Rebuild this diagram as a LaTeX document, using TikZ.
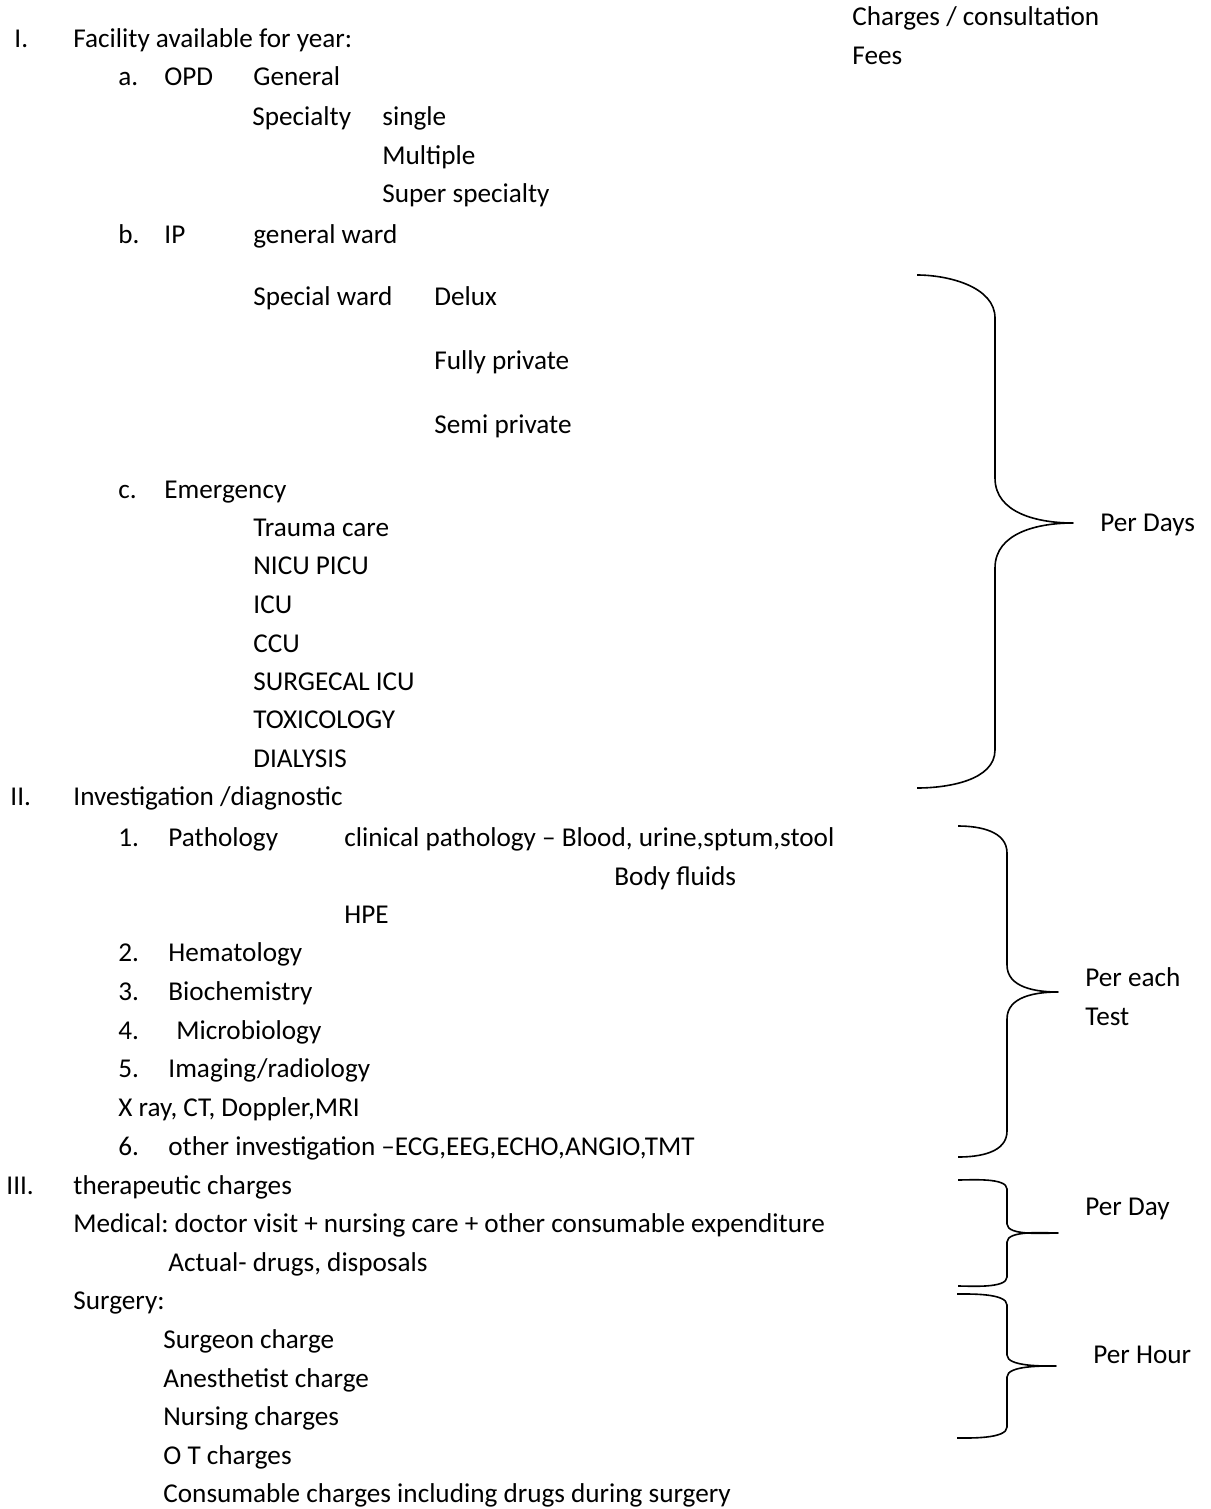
\documentclass[tikz,border=0pt]{standalone}
\usepackage{fontspec}
\setmainfont{Carlito}
\usepackage{tikz}
\frenchspacing

\tikzset{
	txt/.style={anchor=base west,inner sep=0pt,font=\fontsize{13.6}{15}\selectfont},
	brace/.style={line width=0.8pt,line join=round}
}

\begin{document}
\begin{tikzpicture}[x=0.5pt,y=-0.5pt]
		\useasboundingbox (0,0) rectangle (1210,1509);
%		\draw[help lines,step=100] (0,0) grid (1210,1509);
		% right hand column
		\path (852,26) node(charges) [txt] {Charges / consultation};
		\path (852,65) node(fees) [txt] {Fees};

		% I. facilities
		\path (14,48) node(num_one) [txt] {I.};
		\path (73,48) node(facility) [txt] {Facility available for year:};
		\path (118,86) node(item_a) [txt] {a.};
		\path (164,86) node(opd) [txt] {OPD};
		\path (253,86) node(general) [txt] {General};
		\path (252,126) node(specialty) [txt] {Specialty};
		\path (382,126) node(single) [txt] {single};
		\path (382,164) node(multiple) [txt] {Multiple};
		\path (382,202) node(superspec) [txt] {Super specialty};
		\path (118,243) node(item_b) [txt] {b.};
		\path (164,243) node(ip) [txt] {IP};
		\path (253,243) node(gen_ward) [txt] {general ward};
		\path (253,305) node(spec_ward) [txt] {Special ward};
		\path (434,305) node(delux) [txt] {Delux};
		\path (434,369) node(fully) [txt] {Fully private};
		\path (434,433) node(semi) [txt] {Semi private};
		\path (118,498) node(item_c) [txt] {c.};
		\path (164,498) node(emergency) [txt] {Emergency};
		\path (253,536) node(trauma) [txt] {Trauma care};
		\path (253,574) node(nicu) [txt] {NICU PICU};
		\path (253,613) node(icu) [txt] {ICU};
		\path (253,652) node(ccu) [txt] {CCU};
		\path (253,690) node(surg_icu) [txt] {SURGECAL ICU};
		\path (253,728) node(toxic) [txt] {TOXICOLOGY};
		\path (253,767) node(dialysis) [txt] {DIALYSIS};

		% II. investigations
		\path (10,805) node(num_two) [txt] {II.};
		\path (73,805) node(invest) [txt] {Investigation /diagnostic};
		\path (118,846) node(item_1) [txt] {1.};
		\path (168,846) node(patho) [txt] {Pathology};
		\path (344,846) node(clinical) [txt] {clinical pathology -- Blood, urine,sptum,stool};
		\path (614,885) node(fluids) [txt] {Body fluids};
		\path (344,923) node(hpe) [txt] {HPE};
		\path (118,961) node(item_2) [txt] {2.};
		\path (168,961) node(hemat) [txt] {Hematology};
		\path (118,1000) node(item_3) [txt] {3.};
		\path (168,1000) node(biochem) [txt] {Biochemistry};
		\path (118,1039) node(item_4) [txt] {4.};
		\path (176,1039) node(micro) [txt] {Microbiology};
		\path (118,1077) node(item_5) [txt] {5.};
		\path (168,1077) node(imaging) [txt] {Imaging/radiology};
		\path (118,1116) node(xray) [txt] {X ray, CT, Doppler,MRI};
		\path (118,1155) node(item_6) [txt] {6.};
		\path (168,1155) node(other) [txt] {other investigation --ECG,EEG,ECHO,ANGIO,TMT};

		% III. therapeutic
		\path (6,1194) node(num_three) [txt] {III.};
		\path (73,1194) node(therap) [txt] {therapeutic charges};
		\path (73,1232) node(medical) [txt] {Medical: doctor visit + nursing care + other consumable expenditure};
		\path (168,1271) node(actual) [txt] {Actual- drugs, disposals};
		\path (73,1309) node(surgery) [txt] {Surgery:};
		\path (163,1348) node(surgeon) [txt] {Surgeon charge};
		\path (163,1387) node(anest) [txt] {Anesthetist charge};
		\path (163,1425) node(nursing) [txt] {Nursing charges};
		\path (163,1464) node(ot) [txt] {O T charges};
		\path (163,1502) node(consum) [txt] {Consumable charges including drugs during surgery};

		% brace labels
		\path (1100,531) node(per_days) [txt] {Per Days};
		\path (1085,986) node(per_each) [txt] {Per each};
		\path (1085,1025) node(test) [txt] {Test};
		\path (1085,1215) node(per_day) [txt] {Per Day};
		\path (1093,1363) node(per_hour) [txt] {Per Hour};

		% braces
		\draw[brace] (917,275) to[out=0,in=90,looseness=0.9] (995,318) -- (995,478)
			to[out=-90,in=180] (1073,523) to[out=180,in=90] (995,568) -- (995,750)
			to[out=-90,in=0,looseness=0.9] (917,788);
		\draw[brace] (958,826) to[out=0,in=90] (1007,853) -- (1007,965)
			to[out=-90,in=180] (1058,992) to[out=180,in=90] (1007,1019) -- (1007,1131)
			to[out=-90,in=0] (958,1157);
		\draw[brace] (958,1180) to[out=0,in=90,looseness=0.6] (1007,1189) -- (1007,1224)
			to[out=-90,in=180,looseness=0.6] (1058,1233) to[out=180,in=90,looseness=0.6] (1007,1242) -- (1007,1277)
			to[out=-90,in=0,looseness=0.6] (958,1286);
		\draw[brace] (957,1294) to[out=0,in=90,looseness=0.6] (1007,1305) -- (1007,1355)
			to[out=-90,in=180,looseness=0.6] (1056,1366) to[out=180,in=90,looseness=0.6] (1007,1377) -- (1007,1427)
			to[out=-90,in=0,looseness=0.6] (957,1438);
	\end{tikzpicture}
\end{document}
